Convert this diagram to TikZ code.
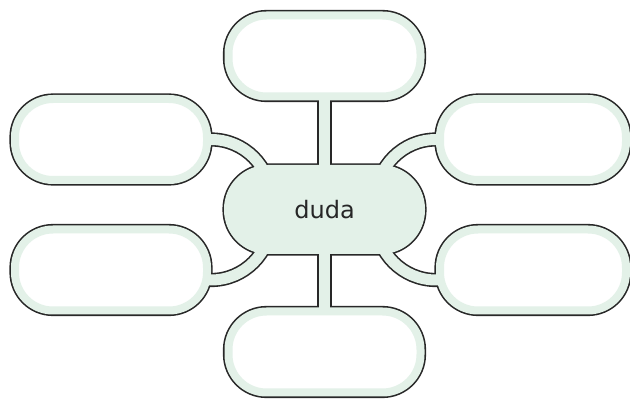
\documentclass[tikz,border=0pt]{standalone}
\usepackage{fontspec}
\setsansfont{DejaVu Sans}
\usepackage{tikz}
\usetikzlibrary{backgrounds}
\definecolor{mint}{RGB}{227,241,232}
\definecolor{rim}{RGB}{40,40,40}

\begin{document}
\begin{tikzpicture}[
  x=1pt, y=1pt,
  box/.style={draw=mint, fill=white, line width=8pt, rounded corners=38pt,
              minimum width=192pt, minimum height=81pt, outer sep=0pt, inner sep=0pt},
  hub/.style={fill=mint, rounded corners=44pt, minimum width=201pt, minimum height=89pt,
              outer sep=0pt, inner sep=0pt, text=black!85,
              font=\sffamily\fontsize{24}{28}\selectfont},
  rimline/.style={draw=rim, line width=11.2pt, rounded corners=38pt},
  hubrim/.style={draw=rim, line width=3.2pt, rounded corners=44pt},
  band/.style={draw=mint, line width=11pt},
  bandrim/.style={draw=rim, line width=14.2pt}
]
  \useasboundingbox (0,0) rectangle (630,399);
  \node[hub] (duda) at (324.5,189.5) {duda};
  \node[box] (top) at (324.5,343) {};
  \node[box] (bottom) at (324.5,47) {};
  \node[box] (lu) at (111,259.5) {};
  \node[box] (ll) at (111,129) {};
  \node[box, minimum width=186pt] (ru) at (533,259.5) {};
  \node[box, minimum width=186pt] (rl) at (533,129) {};

  \begin{scope}[on background layer]
    % outlines first, then the green bands on top of them
    \foreach \b in {top,bottom,lu,ll,ru,rl}
      \draw[rimline] (\b.south west) rectangle (\b.north east);
    \draw[hubrim] (duda.south west) rectangle (duda.north east);
    \foreach \s in {bandrim,band} {
      \draw[\s] (top.south) -- (duda.center);
      \draw[\s] (bottom.north) -- (duda.center);
      \draw[\s] (lu.east) -- ++(4,0) arc[start angle=90, end angle=0, radius=60] -- (duda.center);
      \draw[\s] ([yshift=-10pt]ll.east) -- ++(4,0) arc[start angle=-90, end angle=0, radius=60] -- (duda.center);
      \draw[\s] (ru.west) -- ++(-4,0) arc[start angle=90, end angle=180, radius=60] -- (duda.center);
      \draw[\s] ([yshift=-10pt]rl.west) -- ++(-4,0) arc[start angle=-90, end angle=-180, radius=60] -- (duda.center);
    }
  \end{scope}
\end{tikzpicture}
\end{document}
